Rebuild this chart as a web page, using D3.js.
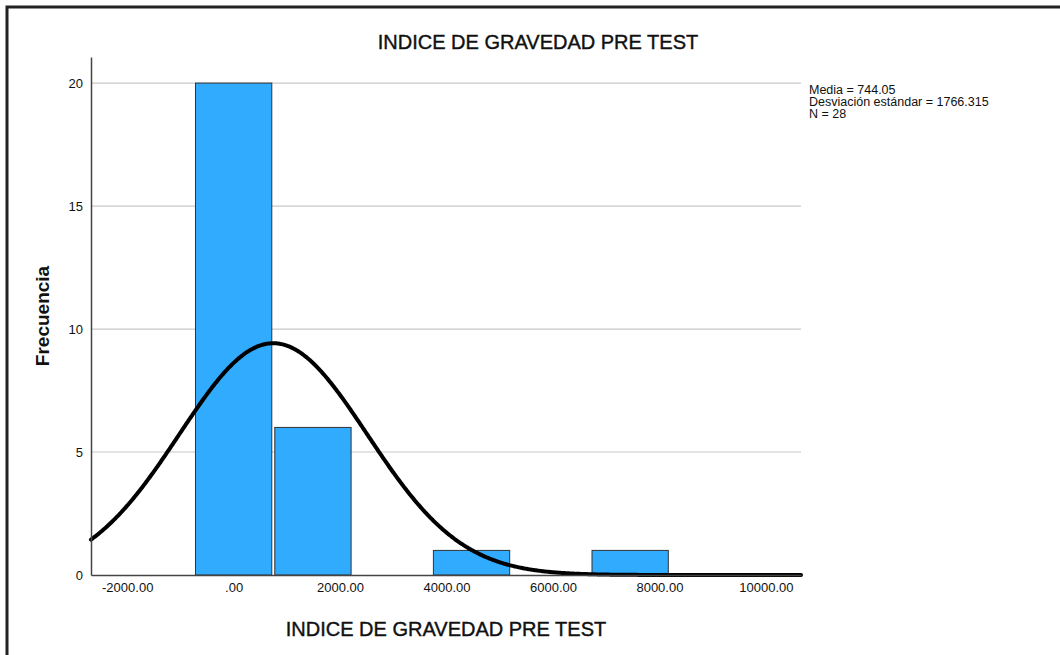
<!DOCTYPE html>
<html>
<head>
<meta charset="utf-8">
<script src="https://cdn.jsdelivr.net/npm/d3@7"></script>
<style>
  body { margin: 0; background: #fff; }
  text { font-family: "Liberation Sans", Arial, sans-serif; fill: #111; }
</style>
</head>
<body>
<script>
let width = 1060;
let height = 655;

// histogram bins (lower / upper edge) and counts
let binLower = [-745, 745, 3725, 6705];
let binUpper = [745, 2235, 5215, 8195];
let counts = [20, 6, 1, 1];

// statistics shown in the legend
let mean = 744.05;
let sd = 1766.315;
let n = 28;
let binWidth = 1490;

let xTicks = [-2000, 0, 2000, 4000, 6000, 8000, 10000];
let yTicks = [0, 5, 10, 15, 20];
let legendLines = ["Media = 744.05", "Desviación estándar = 1766.315", "N = 28"];

let plot = { left: 91, right: 801, top: 57, bottom: 575 };

let svg = d3.select("body").append("svg")
    .attr("width", width)
    .attr("height", height);

// frame (top and left edge of the screenshot)
svg.append("path")
    .attr("d", `M7,${height} V7 H${width}`)
    .attr("fill", "none")
    .attr("stroke", "#222")
    .attr("stroke-width", 3);

let x = d3.scaleLinear()
    .domain([-2680, 10660])
    .range([plot.left, plot.right]);

let y = d3.scaleLinear()
    .domain([0, 21.06])
    .range([plot.bottom, plot.top]);

// gridlines
svg.append("g")
    .selectAll("line")
    .data(yTicks.filter(d => d > 0))
    .enter()
    .append("line")
    .attr("x1", plot.left)
    .attr("x2", plot.right)
    .attr("y1", d => y(d))
    .attr("y2", d => y(d))
    .attr("stroke", "#c8c8c8")
    .attr("stroke-width", 1.2);

// bars
let bins = counts.map((c, i) => ({ x0: binLower[i], x1: binUpper[i], count: c }));
svg.append("g")
    .selectAll("rect")
    .data(bins)
    .enter()
    .append("rect")
    .attr("x", d => x(d.x0) + 1.5)
    .attr("width", d => x(d.x1) - x(d.x0) - 3)
    .attr("y", d => y(d.count))
    .attr("height", d => y(0) - y(d.count))
    .attr("fill", "#30abfd")
    .attr("stroke", "#333")
    .attr("stroke-width", 1);

// normal curve
let curveX = d3.range(x.domain()[0], x.domain()[1] + 1, 20);
let normal = v => n * binWidth / (sd * Math.sqrt(2 * Math.PI)) * Math.exp(-0.5 * Math.pow((v - mean) / sd, 2));
let line = d3.line()
    .x(d => x(d))
    .y(d => y(normal(d)));
svg.append("path")
    .datum(curveX)
    .attr("d", line)
    .attr("fill", "none")
    .attr("stroke", "#000")
    .attr("stroke-width", 4)
    .attr("stroke-linecap", "round");

// axes
let xAxis = d3.axisBottom(x)
    .tickValues(xTicks)
    .tickSize(0)
    .tickPadding(8)
    .tickFormat(d => d === 0 ? ".00" : d.toFixed(2));
let gx = svg.append("g")
    .attr("transform", `translate(0,${plot.bottom})`)
    .call(xAxis);
gx.select(".domain").attr("stroke", "#444").attr("stroke-width", 1.5);
gx.selectAll("text").style("font-size", "13px").attr("fill", "#222");

let yAxis = d3.axisLeft(y)
    .tickValues(yTicks)
    .tickSize(0)
    .tickPadding(8);
let gy = svg.append("g")
    .attr("transform", `translate(${plot.left},0)`)
    .call(yAxis);
gy.select(".domain").attr("stroke", "#444").attr("stroke-width", 1.5);
gy.selectAll("text").style("font-size", "13px").attr("fill", "#222");

// titles
svg.append("text")
    .attr("x", 538)
    .attr("y", 49)
    .attr("text-anchor", "middle")
    .style("font-size", "20px")
    .style("stroke", "#111")
    .style("stroke-width", 0.4)
    .text("INDICE DE GRAVEDAD PRE TEST");

svg.append("text")
    .attr("x", 446)
    .attr("y", 636)
    .attr("text-anchor", "middle")
    .style("font-size", "20px")
    .style("stroke", "#111")
    .style("stroke-width", 0.4)
    .text("INDICE DE GRAVEDAD PRE TEST");

svg.append("text")
    .attr("transform", "translate(49,316) rotate(-90)")
    .attr("text-anchor", "middle")
    .style("font-size", "19px")
    .style("font-weight", "bold")
    .text("Frecuencia");

// legend
svg.append("g")
    .selectAll("text")
    .data(legendLines)
    .enter()
    .append("text")
    .attr("x", 809)
    .attr("y", (d, i) => 94 + i * 12)
    .style("font-size", "12.5px")
    .text(d => d);
</script>
</body>
</html>
